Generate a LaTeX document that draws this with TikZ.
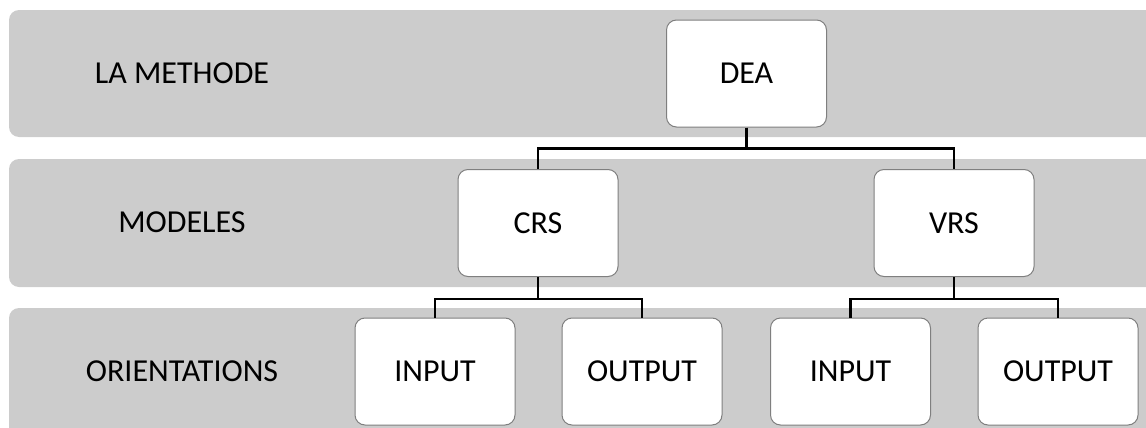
\documentclass[tikz,border=0pt]{standalone}
\usepackage{fontspec}
\setmainfont{Carlito}
\definecolor{bandgray}{HTML}{CCCCCC}
\definecolor{boxline}{HTML}{7F7F7F}
\begin{document}
\begin{tikzpicture}[x=0.5pt,y=-0.5pt,
    band/.style={fill=bandgray,rounded corners=5pt},
    level/.style={font=\fontsize{16}{19}\selectfont},
    box/.style={draw=boxline,line width=0.5pt,fill=white,rounded corners=5pt,
        minimum width=80pt,minimum height=53.5pt,font=\fontsize{16}{19}\selectfont},
    link/.style={line width=1.4pt,black}]
        \useasboundingbox (0,0) rectangle (1146,428);
        % the three grey bands
        \fill[band] (9,10) rectangle (1170,137);
        \fill[band] (9,159) rectangle (1170,287);
        \fill[band] (9,308) rectangle (1170,450);
        % level names
        \node[level] (lmethode) at (182,73) {LA METHODE};
        \node[level] (lmodeles) at (182,222) {MODELES};
        \node[level] (lorient) at (182,371) {ORIENTATIONS};
        % boxes
        \node[box] (dea) at (746.5,73.5) {DEA};
        \node[box] (crs) at (538,223) {CRS};
        \node[box] (vrs) at (954,223) {VRS};
        \node[box] (crsin) at (435,371.5) {INPUT};
        \node[box] (crsout) at (642,371.5) {OUTPUT};
        \node[box] (vrsin) at (850.5,371.5) {INPUT};
        \node[box] (vrsout) at (1058,371.5) {OUTPUT};
        % tree links
        \draw[link] (dea.south) -- ++(0,21) -| (crs.north);
        \draw[link] (dea.south) -- ++(0,21) -| (vrs.north);
        \draw[link] (crs.south) -- ++(0,22) -| (crsin.north);
        \draw[link] (crs.south) -- ++(0,22) -| (crsout.north);
        \draw[link] (vrs.south) -- ++(0,22) -| (vrsin.north);
        \draw[link] (vrs.south) -- ++(0,22) -| (vrsout.north);
    \end{tikzpicture}
\end{document}
